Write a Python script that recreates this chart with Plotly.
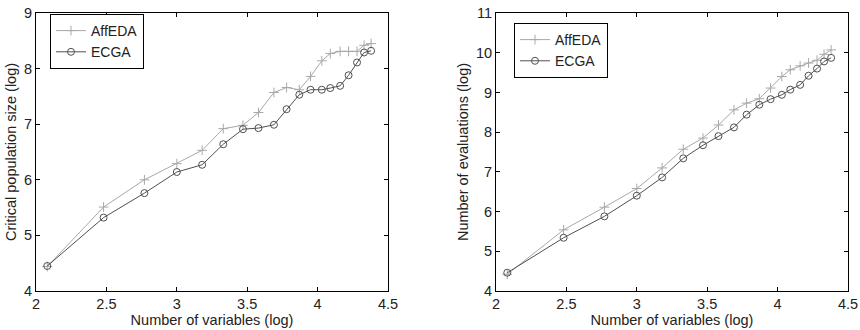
import plotly.graph_objects as go

x_log_vars = [2.08, 2.48, 2.77, 3.00, 3.18, 3.33, 3.47, 3.58, 3.69, 3.78,
              3.87, 3.95, 4.03, 4.09, 4.16, 4.22, 4.28, 4.33, 4.38]

pop_affeda = [4.44, 5.51, 6.00, 6.29, 6.53, 6.92, 6.98, 7.21, 7.57, 7.66,
              7.62, 7.86, 8.14, 8.27, 8.31, 8.31, 8.31, 8.42, 8.45]
pop_ecga = [4.45, 5.32, 5.76, 6.14, 6.27, 6.64, 6.91, 6.93, 6.99, 7.27,
            7.53, 7.62, 7.62, 7.65, 7.69, 7.88, 8.11, 8.29, 8.32]

eval_affeda = [4.42, 5.54, 6.11, 6.58, 7.10, 7.57, 7.85, 8.18, 8.56, 8.73,
               8.84, 9.11, 9.40, 9.57, 9.67, 9.74, 9.81, 9.96, 10.07]
eval_ecga = [4.46, 5.34, 5.88, 6.40, 6.86, 7.34, 7.67, 7.90, 8.12, 8.44,
             8.69, 8.83, 8.94, 9.07, 9.19, 9.42, 9.60, 9.78, 9.87]

x_ticks = [2, 2.5, 3, 3.5, 4, 4.5]
x_tick_text = ["2", "2.5", "3", "3.5", "4", "4.5"]

c_aff = "#a8a8a8"
c_ecga = "#505050"
font_family = "Liberation Sans, Arial, sans-serif"
fsize = 14.5

fig = go.Figure()

def add_pair(xa, ya, y_aff, y_ecga, legend_name):
    fig.add_trace(go.Scatter(
        x=x_log_vars, y=y_aff, name="AffEDA", mode="lines+markers",
        line=dict(color=c_aff, width=1),
        marker=dict(symbol="cross-thin", size=7, line=dict(color=c_aff, width=1)),
        xaxis=xa, yaxis=ya, legend=legend_name))
    fig.add_trace(go.Scatter(
        x=x_log_vars, y=y_ecga, name="ECGA", mode="lines+markers",
        line=dict(color=c_ecga, width=1),
        marker=dict(symbol="circle-open", size=7, color=c_ecga, line=dict(color=c_ecga, width=1)),
        xaxis=xa, yaxis=ya, legend=legend_name))

add_pair("x", "y", pop_affeda, pop_ecga, "legend")
add_pair("x2", "y2", eval_affeda, eval_ecga, "legend2")

ybot = 1 - 291 / 330
ytop = 1 - 13 / 330

axis_common = dict(
    showline=True, linecolor="black", linewidth=1, mirror="ticks",
    ticks="inside", ticklen=4, tickcolor="black", showgrid=False, zeroline=False,
    automargin=False,
    tickfont=dict(family=font_family, size=fsize, color="#222"),
    title_font=dict(family=font_family, size=fsize, color="#222"),
)

leg_common = dict(xanchor="left", yanchor="top",
                  bgcolor="white", bordercolor="black", borderwidth=1,
                  font=dict(family=font_family, size=14, color="#222"),
                  tracegroupgap=0, itemwidth=30)

fig.update_layout(
    width=860, height=330,
    margin=dict(l=0, r=0, t=0, b=0),
    paper_bgcolor="white", plot_bgcolor="white",
    font=dict(family=font_family, size=fsize, color="#222"),
    xaxis=dict(domain=[36 / 860, 388 / 860], range=[2, 4.5], tickvals=x_ticks,
               ticktext=x_tick_text, anchor="y",
               title=dict(text="Number of variables (log)", standoff=0), **axis_common),
    yaxis=dict(domain=[ybot, ytop], range=[4, 9], dtick=1, anchor="x",
               title=dict(text="Critical population size (log)", standoff=3), **axis_common),
    xaxis2=dict(domain=[496 / 860, 848 / 860], range=[2, 4.5], tickvals=x_ticks,
                ticktext=x_tick_text, anchor="y2",
                title=dict(text="Number of variables (log)", standoff=0), **axis_common),
    yaxis2=dict(domain=[ybot, ytop], range=[4, 11], dtick=1, anchor="x2",
                title=dict(text="Number of evaluations (log)", standoff=3), **axis_common),
    legend=dict(x=50 / 860, y=1 - 14 / 330, **leg_common),
    legend2=dict(x=514 / 860, y=1 - 23 / 330, **leg_common),
)

fig.write_html("out.html", post_script="document.body.style.margin='0';",
               config={"displayModeBar": False})
